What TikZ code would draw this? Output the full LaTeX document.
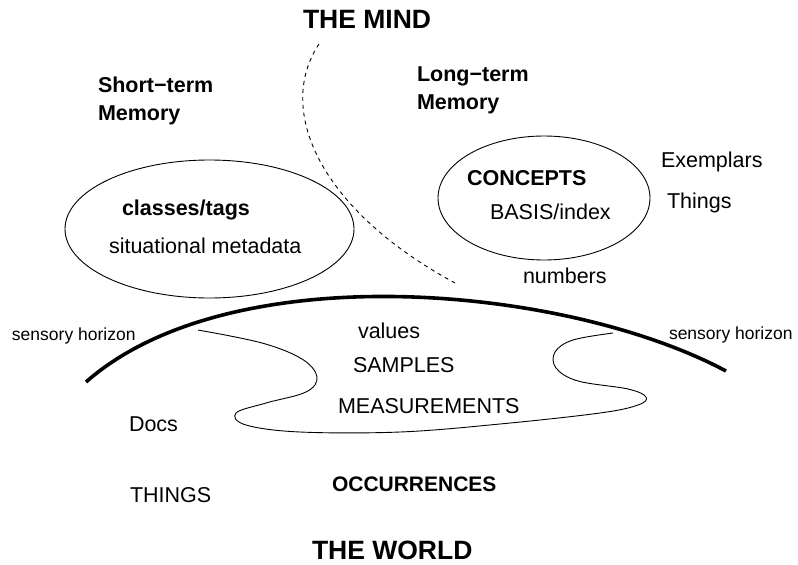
\documentclass[tikz,border=0pt]{standalone}
\usepackage{fontspec}
\setmainfont{Liberation Sans}
\begin{document}
\begin{tikzpicture}[x=1pt,y=-1pt,
  lbl/.style={anchor=base west,inner sep=0pt,outer sep=0pt,font=\fontsize{21.5}{26}\selectfont},
  blbl/.style={lbl,font=\fontsize{21.5}{26}\selectfont\bfseries},
  title/.style={lbl,font=\fontsize{26.5}{30}\selectfont\bfseries},
  small/.style={lbl,font=\fontsize{17.5}{21}\selectfont},
  memory/.style={draw,line width=0.9pt},
  horizon/.style={line width=3.6pt},
  border/.style={line width=0.9pt},
  divide/.style={line width=0.9pt,dash pattern=on 4pt off 4pt}]
\useasboundingbox (0,0) rectangle (798,565);
% ellipses
\draw[memory] (209.5,229) ellipse [x radius=144.5,y radius=69];
\draw[memory] (544,198) ellipse [x radius=106,y radius=62];
% dashed mind divider
\coordinate (dtop) at (319,44);
\coordinate (dbot) at (455,283);
\draw[divide] (dtop) .. controls (275,110) and (320,210) .. (dbot);
% sensory horizon
\coordinate (hl) at (86,382);
\coordinate (hr) at (726,371);
\draw[horizon] (hl) .. controls (230,255) and (565,285) .. (hr);
% world region border
\draw[border] plot[smooth,tension=0.6] coordinates {(198,330) (262,343) (302,359) (317,377) (306,392) (266,403) (236,413) (246,425) (300,432) (400,432) (500,424) (600,413) (638,405) (646,397) (628,389) (578,381) (556,368) (555,352) (573,340) (613,333)};
% texts
\node[title] (mind) at (303,28) {THE MIND};
\node[blbl] (st1) at (98,92) {Short−term};
\node[blbl] (st2) at (98,120) {Memory};
\node[blbl] (lt1) at (417,81) {Long−term};
\node[blbl] (lt2) at (417,109) {Memory};
\node[blbl] (cls) at (122,215) {classes/tags};
\node[lbl] (sit) at (109,253) {situational metadata};
\node[blbl] (con) at (467,185) {CONCEPTS};
\node[lbl] (bas) at (490,219) {BASIS/index};
\node[lbl] (exe) at (661,167) {Exemplars};
\node[lbl] (thi) at (667,208) {Things};
\node[lbl] (num) at (523,283) {numbers};
\node[small] (shl) at (12,340) {sensory horizon};
\node[small] (shr) at (669,339) {sensory horizon};
\node[lbl] (val) at (358,338) {values};
\node[lbl] (sam) at (353,372) {SAMPLES};
\node[lbl] (mea) at (338,413) {MEASUREMENTS};
\node[lbl] (doc) at (129,431) {Docs};
\node[lbl] (thg) at (130,502) {THINGS};
\node[blbl,font=\fontsize{21}{26}\selectfont\bfseries] (occ) at (332,491) {OCCURRENCES};
\node[title] (world) at (312,559) {THE WORLD};
\end{tikzpicture}
\end{document}
